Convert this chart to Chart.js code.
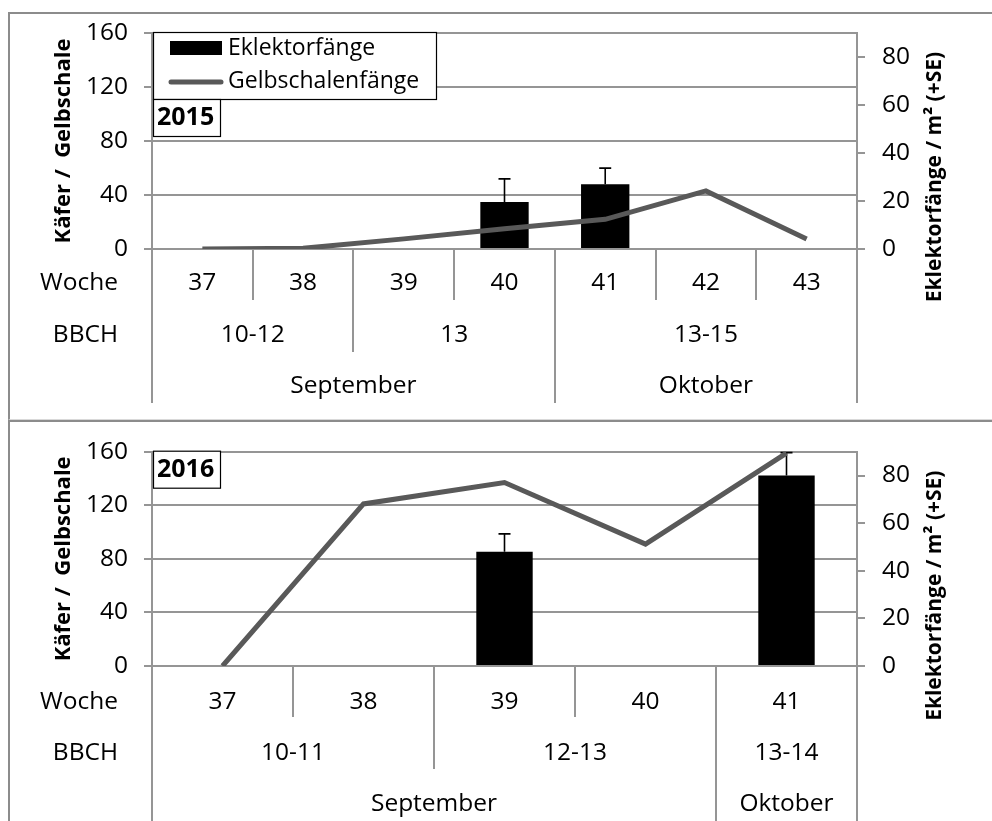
<!DOCTYPE html>
<html>
<head>
<meta charset="utf-8">
<script src="https://cdn.jsdelivr.net/npm/chart.js@4.4.1/dist/chart.umd.min.js"></script>
<style>
  body { margin: 0; background: #fff; width: 992px; height: 821px; overflow: hidden; position: relative; }
  .rahmen { position: absolute; box-sizing: border-box; }
  #rahmen1 { left: 8px; top: 12px; width: 1000px; height: 408px; border-left: 2px solid #8c8c8c; border-top: 2px solid #8c8c8c; border-bottom: 1px solid #d9d9d9; }
  #rahmen2 { left: 8px; top: 420px; width: 1000px; height: 420px; border-left: 2px solid #8c8c8c; border-top: 2px solid #8c8c8c; }
  canvas { position: absolute; left: 0; }
  #chart_2015 { top: 0; }
  #chart_2016 { top: 420px; }
</style>
</head>
<body>
<div class="rahmen" id="rahmen1"></div>
<div class="rahmen" id="rahmen2"></div>
<canvas id="chart_2015" width="992" height="419"></canvas>
<canvas id="chart_2016" width="992" height="401"></canvas>
<script>
// ---- Daten 2015 ----
var wochen_2015 = ["37", "38", "39", "40", "41", "42", "43"];
var eklektor_2015 = [null, null, null, 19.6, 27, null, null];
var eklektor_se_2015 = [null, null, null, 9.6, 6.7, null, null];
var gelbschale_2015 = [0, 0.5, 7.5, 15, 22, 43, 7.4];
var bbch_2015 = ["10-12", "13", "13-15"];
var bbch_span_2015 = [2, 2, 3];
var monate_2015 = ["September", "Oktober"];
var monate_span_2015 = [4, 3];

// ---- Daten 2016 ----
var wochen_2016 = ["37", "38", "39", "40", "41"];
var eklektor_2016 = [null, null, 48, null, 80];
var eklektor_se_2016 = [null, null, 7.5, null, 9.6];
var gelbschale_2016 = [0, 121, 137, 91, 159];
var bbch_2016 = ["10-11", "12-13", "13-14"];
var bbch_span_2016 = [2, 2, 1];
var monate_2016 = ["September", "Oktober"];
var monate_span_2016 = [4, 1];

var links_achse = [0, 40, 80, 120, 160];
var rechts_achse = [0, 20, 40, 60, 80];

var grau = "#959595";
var linie_farbe = "#595959";
var schrift = "'Open Sans', 'DejaVu Sans', sans-serif";
var groesse = 24.5;

Chart.defaults.color = "#000";
Chart.defaults.font.family = schrift;

// error bars, category table, titles, legend
var tabla = {
    id: "tabla",
    afterDatasetDraw: function (chart, args, opts) {
        if (args.index !== 0) return;
        var meta = chart.getDatasetMeta(0);
        var y1 = chart.scales.y1;
        var ctx = chart.ctx;
        ctx.save();
        ctx.strokeStyle = "#000";
        ctx.lineWidth = 1.6;
        opts.fehler.forEach(function (se, i) {
            if (se == null) return;
            var el = meta.data[i];
            var v = chart.data.datasets[0].data[i];
            var yt = y1.getPixelForValue(v + se);
            ctx.beginPath();
            ctx.moveTo(el.x, el.y);
            ctx.lineTo(el.x, yt);
            ctx.moveTo(el.x - 6, yt);
            ctx.lineTo(el.x + 6, yt);
            ctx.stroke();
        });
        ctx.restore();
    },
    afterDraw: function (chart, args, opts) {
        var ctx = chart.ctx;
        var a = chart.chartArea;
        var x = chart.scales.x;
        var r = opts.reihen;
        var n = opts.wochen.length;
        var grenze = function (i) { return x.getPixelForValue(i - 0.5); };
        var mitte = function (i0, i1) { return (grenze(i0) + grenze(i1)) / 2; };

        ctx.save();
        ctx.strokeStyle = grau;
        ctx.lineWidth = 2;
        ctx.beginPath();
        // outer edges
        [0, n].forEach(function (i) {
            var px = Math.round(grenze(i));
            ctx.moveTo(px, a.bottom);
            ctx.lineTo(px, a.bottom + r[5]);
        });
        for (var i = 1; i < n; i++) {
            var px = Math.round(grenze(i));
            ctx.moveTo(px, a.bottom);
            ctx.lineTo(px, a.bottom + r[1]);
        }
        var k = 0;
        opts.bbch_span.forEach(function (s, j) {
            k += s;
            if (k < n) {
                var px = Math.round(grenze(k));
                ctx.moveTo(px, a.bottom);
                ctx.lineTo(px, a.bottom + r[3]);
            }
        });
        k = 0;
        opts.monate_span.forEach(function (s) {
            k += s;
            if (k < n) {
                var px = Math.round(grenze(k));
                ctx.moveTo(px, a.bottom);
                ctx.lineTo(px, a.bottom + r[5]);
            }
        });
        ctx.stroke();

        ctx.fillStyle = "#000";
        ctx.font = groesse + "px " + schrift;
        ctx.textAlign = "center";
        ctx.textBaseline = "middle";
        opts.wochen.forEach(function (w, i) {
            ctx.fillText(w, mitte(i, i + 1), a.bottom + r[0]);
        });
        k = 0;
        opts.bbch.forEach(function (b, j) {
            ctx.fillText(b, mitte(k, k + opts.bbch_span[j]), a.bottom + r[2]);
            k += opts.bbch_span[j];
        });
        k = 0;
        opts.monate.forEach(function (m, j) {
            ctx.fillText(m, mitte(k, k + opts.monate_span[j]), a.bottom + r[4]);
            k += opts.monate_span[j];
        });
        ctx.textAlign = "right";
        ctx.fillText("Woche", 118, a.bottom + r[0]);
        ctx.fillText("BBCH", 118, a.bottom + r[2]);

        // axis titles
        ctx.font = "bold 22px " + schrift;
        ctx.textAlign = "center";
        ctx.save();
        ctx.translate(64, (a.top + a.bottom) / 2);
        ctx.rotate(-Math.PI / 2);
        ctx.fillText("Käfer /  Gelbschale", 0, 0);
        ctx.restore();
        ctx.font = "bold 21px " + schrift;
        ctx.save();
        ctx.translate(935, a.top + 144);
        ctx.rotate(-Math.PI / 2);
        ctx.fillText("Eklektorfänge / m² (+SE)", 0, 0);
        ctx.restore();

        // legend
        var yb = a.top - 1;
        if (opts.legende) {
            ctx.fillStyle = "#fff";
            ctx.fillRect(a.left + 1, yb, 283, 67);
            ctx.strokeStyle = "#000";
            ctx.lineWidth = 1.2;
            ctx.strokeRect(a.left + 1.5, yb + 0.5, 283, 67);
            ctx.fillStyle = "#000";
            ctx.fillRect(a.left + 18, yb + 9, 52, 14);
            ctx.strokeStyle = linie_farbe;
            ctx.lineWidth = 5;
            ctx.lineCap = "round";
            ctx.beginPath();
            ctx.moveTo(a.left + 19, yb + 50);
            ctx.lineTo(a.left + 69, yb + 50);
            ctx.stroke();
            ctx.fillStyle = "#000";
            ctx.font = "23px " + schrift;
            ctx.textAlign = "left";
            ctx.fillText("Eklektorfänge", a.left + 76, yb + 16);
            ctx.fillText("Gelbschalenfänge", a.left + 76, yb + 49);
            yb += 67;
        }
        // year box
        ctx.fillStyle = "#fff";
        ctx.fillRect(a.left + 1, yb, 67, 37);
        ctx.strokeStyle = "#000";
        ctx.lineWidth = 1.2;
        ctx.strokeRect(a.left + 1.5, yb + 0.5, 67, 37);
        ctx.fillStyle = "#000";
        ctx.font = "bold 25px " + schrift;
        ctx.textAlign = "left";
        ctx.fillText(opts.jahr, a.left + 5, yb + 19);
        ctx.restore();
    }
};

function baue_chart(id, wochen, eklektor, se, gelb, bbch, bbch_span, monate, monate_span, jahr, legende, pad_oben, x_hoehe, balken, reihen) {
    var ctx = document.getElementById(id);
    return new Chart(ctx, {
        type: "bar",
        data: {
            labels: wochen,
            datasets: [
                {
                    type: "bar",
                    label: "Eklektorfänge",
                    data: eklektor,
                    backgroundColor: "#000",
                    yAxisID: "y1",
                    barPercentage: balken,
                    categoryPercentage: 1,
                    order: 2,
                },
                {
                    type: "line",
                    label: "Gelbschalenfänge",
                    data: gelb,
                    borderColor: linie_farbe,
                    borderWidth: 5,
                    pointRadius: 0,
                    tension: 0,
                    yAxisID: "y",
                    order: 1,
                },
            ],
        },
        options: {
            responsive: false,
            animation: false,
            events: [],
            layout: { padding: { top: pad_oben, left: 0, right: 0, bottom: 0 } },
            plugins: {
                legend: { display: false },
                tooltip: { enabled: false },
                tabla: {
                    fehler: se,
                    wochen: wochen,
                    bbch: bbch,
                    bbch_span: bbch_span,
                    monate: monate,
                    monate_span: monate_span,
                    jahr: jahr,
                    legende: legende,
                    reihen: reihen,
                },
            },
            scales: {
                x: {
                    type: "category",
                    offset: true,
                    ticks: { display: false },
                    grid: { display: false },
                    border: { display: false },
                    afterFit: function (s) { s.height = x_hoehe; },
                },
                y: {
                    position: "left",
                    min: 0,
                    max: 160,
                    afterBuildTicks: function (ax) {
                        ax.ticks = links_achse.map(function (v) { return { value: v }; });
                    },
                    ticks: { font: { size: groesse }, padding: 16, color: "#000" },
                    grid: { color: grau, lineWidth: 2, tickLength: 8 },
                    border: { color: grau, width: 2 },
                    afterFit: function (s) { s.width = 152; },
                },
                y1: {
                    position: "right",
                    min: 0,
                    max: 90,
                    afterBuildTicks: function (ax) {
                        ax.ticks = rechts_achse.map(function (v) { return { value: v }; });
                    },
                    ticks: { font: { size: groesse }, padding: 17, color: "#000" },
                    grid: { drawOnChartArea: false, color: grau, lineWidth: 2, tickLength: 8 },
                    border: { color: grau, width: 2 },
                    afterFit: function (s) { s.width = 135; },
                },
            },
        },
        plugins: [tabla],
    });
}

baue_chart("chart_2015", wochen_2015, eklektor_2015, eklektor_se_2015, gelbschale_2015,
    bbch_2015, bbch_span_2015, monate_2015, monate_span_2015, "2015", true, 33, 170, 0.48,
    [34, 51, 86, 103, 137, 154]);

baue_chart("chart_2016", wochen_2016, eklektor_2016, eklektor_se_2016, gelbschale_2016,
    bbch_2016, bbch_span_2016, monate_2016, monate_span_2016, "2016", false, 22, 155, 0.40,
    [36, 51, 87, 103, 138, 160]);
</script>
</body>
</html>
